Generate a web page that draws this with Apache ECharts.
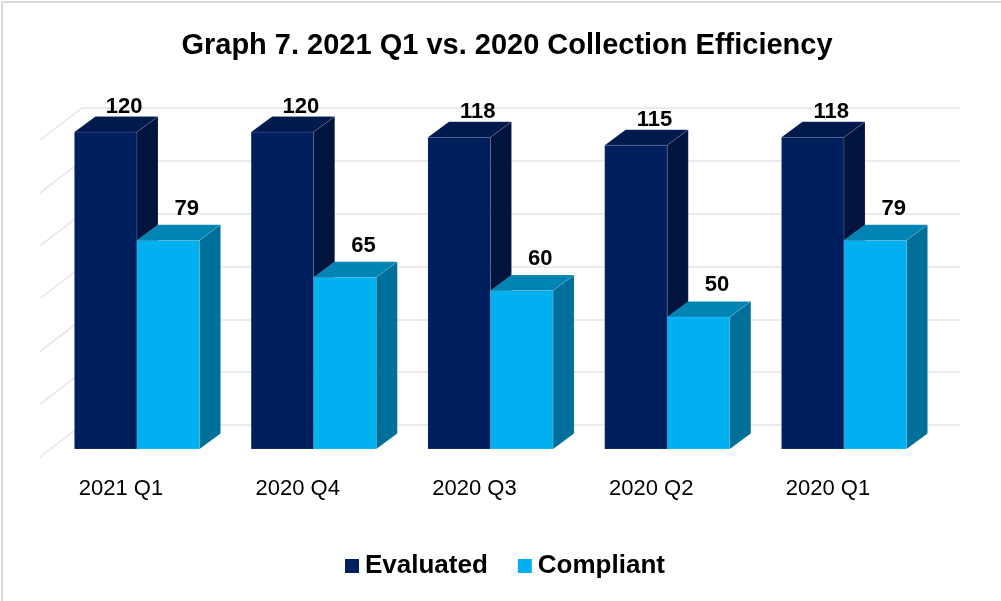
<!DOCTYPE html>
<html>
<head>
<meta charset="utf-8">
<script src="https://cdn.jsdelivr.net/npm/echarts@6/dist/echarts.min.js"></script>
<style>
  html, body {margin:0; padding:0; background:#fff;}
  #main {width:1001px; height:601px;}
</style>
</head>
<body>
<div id="main"></div>
<script>
// 图表数据
var categories = ['2021 Q1', '2020 Q4', '2020 Q3', '2020 Q2', '2020 Q1'];
var evaluated = [120, 120, 118, 115, 118]; // Evaluated
var compliant = [79, 65, 60, 50, 79];      // Compliant
var wallTicks = [0, 20, 40, 60, 80, 100, 120]; // 侧墙刻度

var fontName = '"Liberation Sans", Arial, sans-serif';
var depthX = 21, depthY = -15.5; // 3D 深度偏移

var myChart = echarts.init(document.getElementById('main'));

// 把数组转成 [类目序号, 值]
function toPairs(arr) {
    var out = [];
    for (var i = 0; i < arr.length; i++) {
        out.push([i, arr[i]]);
    }
    return out;
}

// 3D 柱子
function barRenderer(slot, front, topColor, sideColor, labelShift) {
    return function (params, api) {
        var cat = api.value(0);
        var val = api.value(1);
        var base = api.coord([cat, 0]);
        var top = api.coord([cat, val]);
        var band = api.size([1, 0])[0];
        var w = band * 0.354;
        var x0 = base[0] - w + slot * w;
        var x1 = x0 + w;
        var yt = top[1], yb = base[1];
        var edge = 'rgba(255,255,255,0.12)';
        return {
            type: 'group',
            children: [
                {type: 'polygon', shape: {points: [[x0, yt], [x1, yt], [x1, yb], [x0, yb]]},
                    style: {fill: front, stroke: edge, lineWidth: 1}},
                {type: 'polygon', shape: {points: [[x0, yt], [x0 + depthX, yt + depthY], [x1 + depthX, yt + depthY], [x1, yt]]},
                    style: {fill: topColor, stroke: edge, lineWidth: 1}},
                {type: 'polygon', shape: {points: [[x1, yt], [x1 + depthX, yt + depthY], [x1 + depthX, yb + depthY], [x1, yb]]},
                    style: {fill: sideColor, stroke: edge, lineWidth: 1}},
                {type: 'text', style: {
                    x: (x0 + x1) / 2 + depthX - 2.5,
                    y: yt + depthY + labelShift,
                    text: String(val),
                    fill: '#000',
                    font: 'bold 22px ' + fontName,
                    align: 'center',
                    verticalAlign: 'middle'
                }}
            ]
        };
    };
}

// 左侧墙的斜线
function wallRenderer(params, api) {
    var p = api.coord([0, api.value(0)]);
    return {
        type: 'line',
        shape: {x1: 40, y1: p[1] + 8, x2: 82, y2: p[1] - 24},
        style: {stroke: '#e6e6e6', lineWidth: 1.5}
    };
}

var option = {
    backgroundColor: '#fff',
    animation: false,
    title: {
        text: 'Graph 7. 2021 Q1 vs. 2020 Collection Efficiency',
        left: 502,
        top: 26,
        textAlign: 'center',
        textStyle: {fontFamily: fontName, fontSize: 29, fontWeight: 'bold', color: '#000'}
    },
    legend: {
        left: 340,
        top: 548,
        itemWidth: 14,
        itemHeight: 14,
        itemGap: 30,
        icon: 'rect',
        textStyle: {fontFamily: fontName, fontSize: 26, fontWeight: 'bold', color: '#000', padding: [0, 0, 0, 1]},
        data: [
            {name: 'Evaluated', itemStyle: {color: '#002060'}},
            {name: 'Compliant', itemStyle: {color: '#00B0F0'}}
        ]
    },
    graphic: [
        {type: 'line', shape: {x1: 2, y1: 2, x2: 2, y2: 601}, style: {stroke: '#d9d9d9', lineWidth: 2}},
        {type: 'line', shape: {x1: 2, y1: 2, x2: 1001, y2: 2}, style: {stroke: '#d9d9d9', lineWidth: 2}}
    ],
    grid: [
        {left: 48.6, right: 68.6, top: 132, bottom: 152},
        {left: 82, right: 41, top: 108, bottom: 176}
    ],
    xAxis: [
        {
            type: 'category', gridIndex: 0, data: categories,
            axisLine: {show: false}, axisTick: {show: false},
            axisLabel: {fontFamily: fontName, fontSize: 22, color: '#000', margin: 29, padding: [0, 32, 0, 0]}
        },
        {type: 'category', gridIndex: 1, data: categories, show: false}
    ],
    yAxis: [
        {type: 'value', gridIndex: 0, min: 0, max: 120, interval: 20, show: false},
        {
            type: 'value', gridIndex: 1, min: 0, max: 120, interval: 20,
            axisLine: {show: false}, axisTick: {show: false}, axisLabel: {show: false},
            splitLine: {show: true, lineStyle: {color: '#ebebeb', width: 2}}
        }
    ],
    series: [
        {
            type: 'custom', name: 'wall', xAxisIndex: 0, yAxisIndex: 0, z: 1,
            renderItem: wallRenderer,
            encode: {y: 0},
            data: wallTicks.map(function (v) { return [v]; }),
            silent: true
        },
        {
            type: 'custom', name: 'Evaluated', xAxisIndex: 0, yAxisIndex: 0, z: 3,
            itemStyle: {color: '#002060'},
            renderItem: barRenderer(0, '#001F5E', '#001A4E', '#00143E', -10),
            encode: {x: 0, y: 1},
            data: toPairs(evaluated)
        },
        {
            type: 'custom', name: 'Compliant', xAxisIndex: 0, yAxisIndex: 0, z: 4,
            itemStyle: {color: '#00B0F0'},
            renderItem: barRenderer(1, '#00B0F0', '#0084B4', '#00709A', -16),
            encode: {x: 0, y: 1},
            data: toPairs(compliant)
        }
    ]
};
myChart.setOption(option);
</script>
</body>
</html>
